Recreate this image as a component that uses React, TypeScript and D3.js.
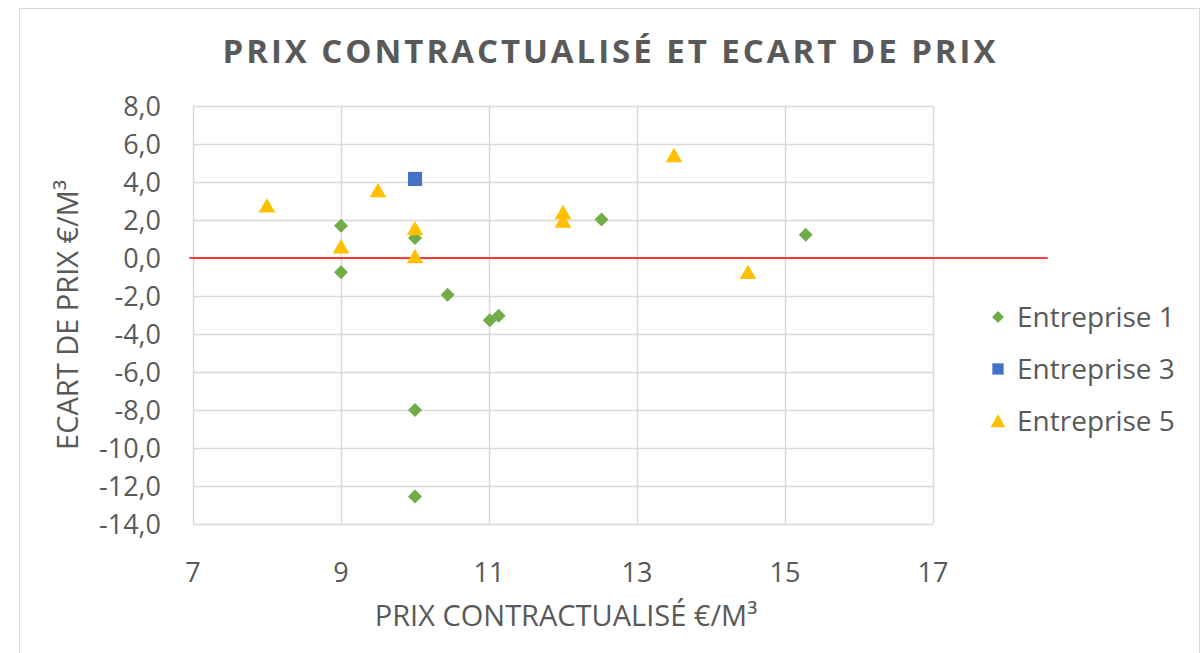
import React from 'react';
import * as d3 from 'd3';

// Series values
const ent1X = [9, 9, 10, 10.44, 11.01, 11.13, 12.52, 15.28, 10, 10];
const ent1Y = [1.7, -0.75, 1.05, -1.93, -3.28, -3.04, 2.02, 1.23, -8.0, -12.55];
const ent3X = [10];
const ent3Y = [4.16];
const ent5X = [8, 9.5, 9, 10, 10, 12, 12, 13.5, 14.5];
const ent5Y = [2.75, 3.55, 0.6, 1.55, 0.08, 2.4, 1.95, 5.4, -0.75];
const zeroLineX = [6.95, 18.55];
const zeroLineY = [0, 0];

const xTicks = [7, 9, 11, 13, 15, 17];
const yTicks = [8, 6, 4, 2, 0, -2, -4, -6, -8, -10, -12, -14];
const legendLabels = ['Entreprise 1', 'Entreprise 3', 'Entreprise 5'];

const TEXT = '#595959';
const GRID = '#D9D9D9';
const GREEN = '#70AD47';
const BLUE = '#4472C4';
const YELLOW = '#FFC000';
const FONT = "'Open Sans', sans-serif";

const W = 1204;
const H = 653;
const plot = { left: 193, right: 933, top: 106, bottom: 524 };

const x = d3.scaleLinear().domain([7, 17]).range([plot.left, plot.right]);
const y = d3.scaleLinear().domain([-14, 8]).range([plot.bottom, plot.top]);

const diamond = d3.symbol().type(d3.symbolDiamond2).size(125)();
const square = d3.symbol().type(d3.symbolSquare).size(200)();
const triangle = d3.symbol().type(d3.symbolTriangle).size(120)();

const fmt = (v: number) => v.toFixed(1).replace('.', ',');

const App = () => {
  const zero = d3
    .line<number>()
    .x((d) => x(d))
    .y((_, i) => y(zeroLineY[i]));

  const legendY = [317, 369, 421];
  const legendMarks = [diamond, square, triangle];
  const legendColors = [GREEN, BLUE, YELLOW];

  return (
    <svg
      width={W}
      height={H}
      style={{ position: 'absolute', left: 0, top: 0, background: '#fff' }}
      fontFamily={FONT}
    >
      {/* chart frame */}
      <rect x={19.5} y={8.5} width={1180} height={660} fill="#fff" stroke={GRID} />

      <text
        x={609}
        y={63}
        textAnchor="middle"
        fontSize={33}
        fontWeight="bold"
        fill={TEXT}
        textLength={773}
        lengthAdjust="spacing"
      >
        PRIX CONTRACTUALISÉ ET ECART DE PRIX
      </text>

      {/* grid */}
      {yTicks.map((t) => (
        <line
          key={'h' + t}
          x1={plot.left}
          x2={plot.right}
          y1={Math.round(y(t)) + 0.5}
          y2={Math.round(y(t)) + 0.5}
          stroke={GRID}
          strokeWidth={1.5}
        />
      ))}
      {xTicks.map((t) => (
        <line
          key={'v' + t}
          x1={Math.round(x(t)) + 0.5}
          x2={Math.round(x(t)) + 0.5}
          y1={plot.top}
          y2={plot.bottom}
          stroke={GRID}
          strokeWidth={1.5}
        />
      ))}

      {/* tick labels */}
      {yTicks.map((t) => (
        <text
          key={'yl' + t}
          x={161}
          y={y(t)}
          dy="0.36em"
          textAnchor="end"
          fontSize={27}
          fill={TEXT}
        >
          {fmt(t)}
        </text>
      ))}
      {xTicks.map((t) => (
        <text
          key={'xl' + t}
          x={x(t)}
          y={572}
          dy="0.36em"
          textAnchor="middle"
          fontSize={27}
          fill={TEXT}
        >
          {t}
        </text>
      ))}

      {/* axis titles */}
      <text x={566} y={626} textAnchor="middle" fontSize={29} fill={TEXT}>
        PRIX CONTRACTUALISÉ €/M³
      </text>
      <text
        transform={`translate(78,${(plot.top + plot.bottom) / 2}) rotate(-90)`}
        textAnchor="middle"
        fontSize={29}
        fill={TEXT}
      >
        ECART DE PRIX €/M³
      </text>

      {/* zero reference line */}
      <path d={zero(zeroLineX) ?? ''} stroke="#FF0000" strokeWidth={1.5} fill="none" />

      {/* series */}
      {ent1X.map((v, i) => (
        <path
          key={'e1' + i}
          d={diamond}
          transform={`translate(${x(v)},${y(ent1Y[i])})`}
          fill={GREEN}
        />
      ))}
      {ent3X.map((v, i) => (
        <path
          key={'e3' + i}
          d={square}
          transform={`translate(${x(v)},${y(ent3Y[i])})`}
          fill={BLUE}
        />
      ))}
      {ent5X.map((v, i) => (
        <path
          key={'e5' + i}
          d={triangle}
          transform={`translate(${x(v)},${y(ent5Y[i]) + 2})`}
          fill={YELLOW}
        />
      ))}

      {/* legend */}
      {legendLabels.map((l, i) => (
        <g key={l} transform={`translate(998,${legendY[i]})`}>
          <path
            d={legendMarks[i]}
            transform={i === 1 ? 'scale(0.8)' : i === 2 ? 'translate(0,2) scale(0.9)' : 'scale(0.85)'}
            fill={legendColors[i]}
          />
          <text x={19} dy="0.36em" fontSize={28} fill={TEXT}>
            {l}
          </text>
        </g>
      ))}
    </svg>
  );
};

export default App;
